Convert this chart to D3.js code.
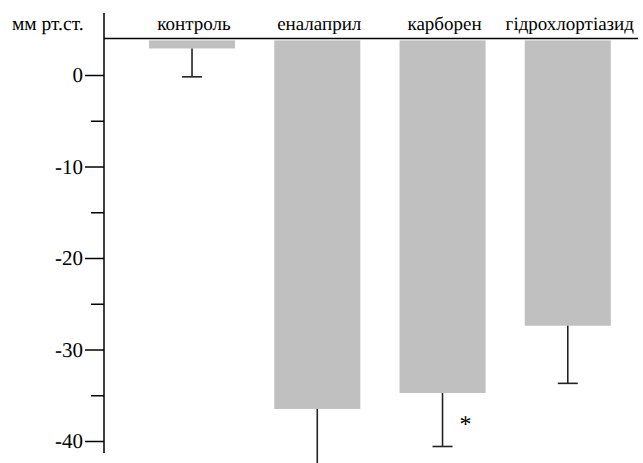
<!DOCTYPE html>
<html>
<head>
<meta charset="utf-8">
<script src="https://cdn.jsdelivr.net/npm/d3@7"></script>
<style>
  body { margin: 0; background: #fff; }
  svg { display: block; }
  svg text { text-rendering: geometricPrecision; }
</style>
</head>
<body>
<svg id="chart" width="643" height="463"></svg>
<script>
// data (mm Hg)
const groups = ["контроль", "еналаприл", "карборен", "гідрохлортіазид"];
const barEnd = [2.9, -36.5, -34.75, -27.4];
const errEnd = [-0.2, -43.5, -40.6, -33.7];
const marked = [false, false, true, false];
const baseValue = 4;
const majorTicks = [0, -10, -20, -30, -40];
const minorTicks = [-5, -15, -25, -35];
const unitLabel = "мм рт.ст.";

const serif = "Liberation Serif";
const svg = d3.select("#chart");

let y = d3.scaleLinear().domain([0, -40]).range([75, 441]);
let x = d3.scaleBand().domain(groups).range([129.4, 630.4])
    .paddingInner(0.313).paddingOuter(0.1565);

const axisX = 104;

// bars
svg.selectAll(".bar")
    .data(groups)
    .enter()
    .append("rect")
    .attr("class", "bar")
    .attr("x", d => x(d))
    .attr("width", x.bandwidth())
    .attr("y", y(baseValue) + 2)
    .attr("height", (d, i) => y(barEnd[i]) - y(baseValue) - 2)
    .style("fill", "#c0c0c0");

// error bars
svg.selectAll(".err")
    .data(groups)
    .enter()
    .append("line")
    .attr("x1", d => x(d) + x.bandwidth() / 2)
    .attr("x2", d => x(d) + x.bandwidth() / 2)
    .attr("y1", (d, i) => y(barEnd[i]))
    .attr("y2", (d, i) => y(errEnd[i]))
    .style("stroke", "#222")
    .style("stroke-width", 1.6);

svg.selectAll(".cap")
    .data(groups)
    .enter()
    .append("line")
    .attr("x1", d => x(d) + x.bandwidth() / 2 - 10)
    .attr("x2", d => x(d) + x.bandwidth() / 2 + 10)
    .attr("y1", (d, i) => y(errEnd[i]))
    .attr("y2", (d, i) => y(errEnd[i]))
    .style("stroke", "#222")
    .style("stroke-width", 1.6);

// asterisk
svg.selectAll(".star")
    .data(groups.filter((d, i) => marked[i]))
    .enter()
    .append("text")
    .attr("x", d => x(d) + x.bandwidth() / 2 + 23)
    .attr("y", d => y(barEnd[groups.indexOf(d)]) + 39)
    .attr("text-anchor", "middle")
    .style("font-family", serif)
    .style("font-size", "24px")
    .text("*");

// top line at the bars' base
svg.append("line")
    .attr("x1", axisX).attr("x2", 638)
    .attr("y1", y(baseValue)).attr("y2", y(baseValue))
    .style("stroke", "#000").style("stroke-width", 1.5);

// Y axis
let yAxis = svg.append("g")
    .attr("transform", `translate(${axisX},0)`)
    .call(d3.axisLeft(y).tickValues(majorTicks).tickSize(19).tickPadding(2)
        .tickFormat(d => String(d)));
yAxis.attr("font-family", serif).attr("font-size", 21);
yAxis.select(".domain").remove();
yAxis.selectAll("line").style("stroke", "#000").style("stroke-width", 1.5);
yAxis.selectAll("text").style("fill", "#000");

let yMinor = svg.append("g")
    .attr("transform", `translate(${axisX},0)`)
    .call(d3.axisLeft(y).tickValues(minorTicks).tickSize(13).tickFormat(""));
yMinor.select(".domain").remove();
yMinor.selectAll("line").style("stroke", "#000").style("stroke-width", 1.5);

svg.append("line")
    .attr("x1", axisX).attr("x2", axisX)
    .attr("y1", 13).attr("y2", 453)
    .style("stroke", "#000").style("stroke-width", 1.5);

// category labels
svg.selectAll(".cat")
    .data(groups)
    .enter()
    .append("text")
    .attr("x", d => x(d) + x.bandwidth() / 2 + 2)
    .attr("y", 30)
    .attr("text-anchor", "middle")
    .style("font-family", serif)
    .style("font-size", "19px")
    .text(d => d);

svg.append("text")
    .attr("x", 12)
    .attr("y", 30)
    .style("font-family", serif)
    .style("font-size", "19.5px")
    .text(unitLabel);
</script>
</body>
</html>
